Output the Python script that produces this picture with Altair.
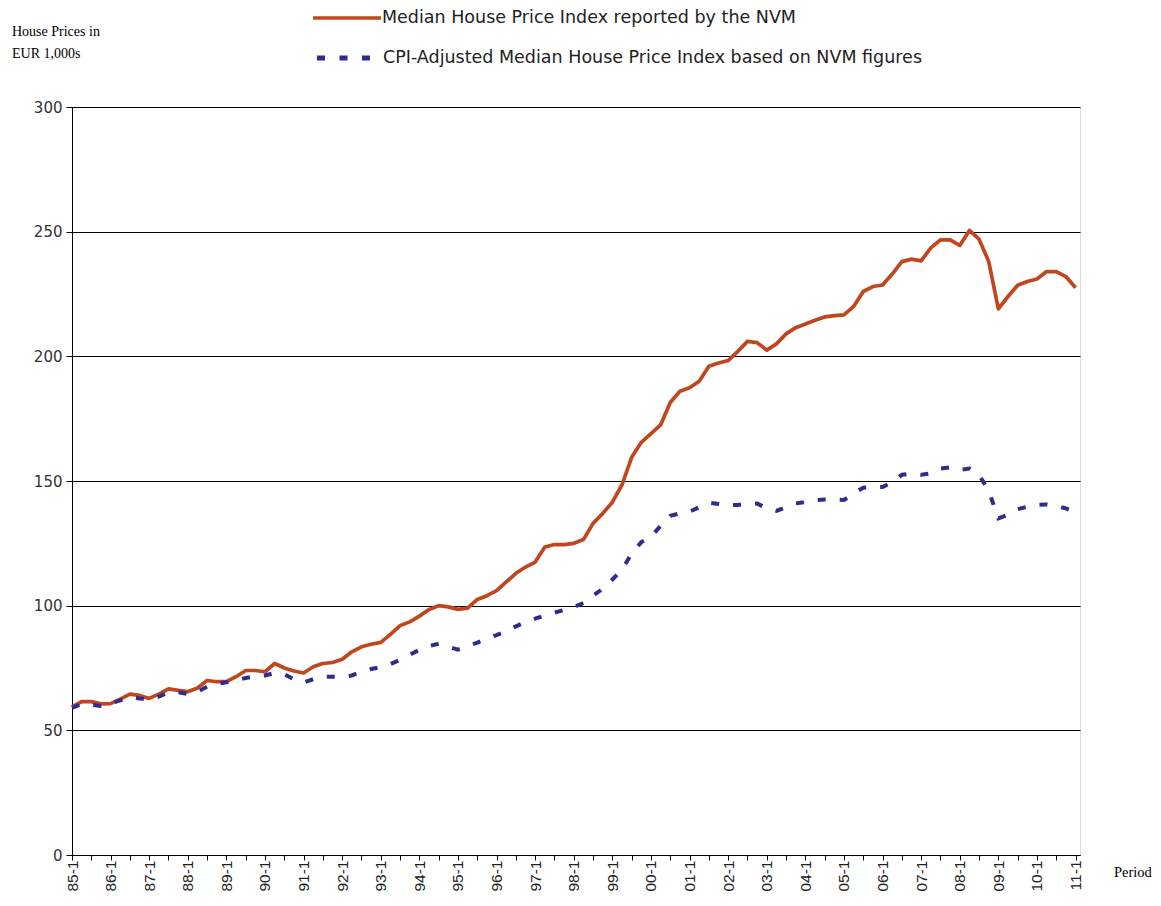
import json
import altair as alt
import pandas as pd

# Quarterly tick labels (one per year, first quarter)
year_labels = ["85-1", "86-1", "87-1", "88-1", "89-1", "90-1", "91-1", "92-1", "93-1",
               "94-1", "95-1", "96-1", "97-1", "98-1", "99-1", "00-1", "01-1", "02-1",
               "03-1", "04-1", "05-1", "06-1", "07-1", "08-1", "09-1", "10-1", "11-1"]

# Median House Price Index reported by the NVM (EUR 1,000s), quarterly 85-1 .. 11-1
nvm_median = [
    59.4, 61.5, 61.5, 60.6,
    60.7, 62.5, 64.5, 64.0,
    62.8, 64.5, 66.6, 66.0,
    65.5, 67.0, 70.0, 69.5,
    69.5, 71.5, 74.0, 74.0,
    73.5, 76.8, 75.0, 73.8,
    73.0, 75.5, 76.8, 77.2,
    78.5, 81.5, 83.5, 84.5,
    85.3, 88.5, 92.0, 93.5,
    95.8, 98.5, 100.0, 99.5,
    98.5, 99.0, 102.5, 104.0,
    106.0, 109.5, 113.0, 115.5,
    117.5, 123.5, 124.5, 124.5,
    125.0, 126.5, 133.0, 137.0,
    141.5, 148.5, 159.5, 165.5,
    169.0, 172.5, 181.5, 186.0,
    187.4, 190.0, 196.0, 197.3,
    198.3, 202.0, 206.0, 205.5,
    202.5, 205.0, 209.0, 211.5,
    213.0, 214.5, 215.8, 216.3,
    216.6, 220.0, 226.0, 228.0,
    228.6, 233.0, 238.0, 239.0,
    238.3, 243.5, 246.7, 246.7,
    244.5, 250.5, 247.0, 238.0,
    219.0, 224.0, 228.5, 230.0,
    231.0, 234.0, 234.0, 232.0,
    227.5,
]

# CPI-Adjusted Median House Price Index based on NVM figures
cpi_adjusted = [
    59.0, 60.5, 60.3, 59.8,
    60.8, 62.0, 63.2, 62.8,
    62.4, 63.5, 65.2, 65.3,
    64.6, 65.5, 67.5, 68.6,
    69.3, 70.0, 71.0, 71.6,
    72.0, 73.0, 72.5, 70.5,
    69.2, 70.5, 71.5, 71.5,
    71.4, 72.0, 73.5, 74.6,
    75.4, 76.6, 78.3, 80.3,
    82.3, 83.8, 84.7, 83.5,
    82.4, 83.7, 85.2, 86.8,
    88.2, 89.8, 91.7, 93.5,
    94.8, 96.1, 97.2, 98.3,
    99.5, 101.0, 104.0, 106.8,
    110.5, 114.4, 121.0, 125.5,
    127.6, 132.0, 136.0, 137.0,
    137.7, 139.5, 141.3, 140.8,
    140.3, 140.4, 141.0, 141.0,
    139.0, 138.0, 139.5, 141.0,
    141.6, 142.3, 142.6, 142.5,
    142.4, 145.0, 147.3, 147.5,
    147.6, 149.5, 152.5, 153.0,
    152.5, 153.0, 155.0, 155.5,
    154.5, 155.0, 152.5, 146.0,
    135.0, 136.5, 138.7, 139.7,
    140.4, 140.6, 140.0, 139.0,
    137.5,
]

series_names = ["Median House Price Index reported by the NVM",
                "CPI-Adjusted Median House Price Index based on NVM figures"]
y_ticks = [0, 50, 100, 150, 200, 250, 300]

RED = "#C0461E"
BLUE = "#2E2C8C"

df = pd.DataFrame({
    "q": list(range(len(nvm_median))),
    "nvm": nvm_median,
    "cpi": cpi_adjusted,
})

label_expr = ("datum.value % 4 == 0 ? " + json.dumps(year_labels) +
              "[datum.value / 4] : ''")

x_enc = alt.X(
    "q:Q",
    scale=alt.Scale(domain=[0, 104.46], nice=False, zero=False),
    axis=alt.Axis(
        values=list(range(0, 105, 2)),
        labelExpr=label_expr,
        labelAngle=270,
        labelFont="Liberation Sans",
        labelFontSize=15.5,
        labelColor="#222222",
        labelPadding=0,
        labelOverlap=False,
        labelBound=False,
        tickSize=5,
        tickColor="#000000",
        domainColor="#000000",
        grid=False,
        title=None,
    ),
)

y_axis = alt.Axis(
    values=y_ticks,
    grid=True,
    gridColor="#000000",
    gridWidth=1,
    tickSize=6,
    tickColor="#000000",
    domainColor="#000000",
    labelFont="DejaVu Sans",
    labelFontSize=15,
    labelColor="#333333",
    labelPadding=4,
    title=None,
)
y_scale = alt.Scale(domain=[0, 300], nice=False)

base = alt.Chart(df)

nvm_line = base.mark_line(color=RED, strokeWidth=3.7, strokeJoin="round").encode(
    x=x_enc, y=alt.Y("nvm:Q", scale=y_scale, axis=y_axis)
)
cpi_line = base.mark_line(color=BLUE, strokeWidth=4, strokeDash=[8, 14]).encode(
    x=x_enc, y=alt.Y("cpi:Q", scale=y_scale, axis=y_axis)
)

# Legend (drawn manually, positioned above the plot)
leg_df1 = pd.DataFrame({"t": [series_names[0]]})
leg_df2 = pd.DataFrame({"t": [series_names[1]]})

leg_red = alt.Chart(leg_df1).mark_rule(color=RED, strokeWidth=3.7).encode(
    x=alt.value(241), x2=alt.value(309), y=alt.value(-89)
)
leg_blue = alt.Chart(leg_df2).mark_rule(color=BLUE, strokeWidth=5, strokeDash=[8, 14.5]).encode(
    x=alt.value(245), x2=alt.value(299), y=alt.value(-49)
)
leg_t1 = alt.Chart(leg_df1).mark_text(
    align="left", baseline="middle", font="DejaVu Sans", fontSize=17.5, color="#222222"
).encode(x=alt.value(310), y=alt.value(-89), text="t:N")
leg_t2 = alt.Chart(leg_df2).mark_text(
    align="left", baseline="middle", font="DejaVu Sans", fontSize=17.5, color="#222222"
).encode(x=alt.value(311), y=alt.value(-49), text="t:N")

ytitle_df = pd.DataFrame({"t": ["House Prices in", "EUR 1,000s"], "yy": [-75, -53]})
ytitle = alt.Chart(ytitle_df).mark_text(
    align="left", baseline="middle", font="Liberation Serif", fontSize=14, color="#000000"
).encode(x=alt.value(-60), y=alt.Y("yy:Q", scale=None), text="t:N")

xtitle_df = pd.DataFrame({"t": ["Period"]})
xtitle = alt.Chart(xtitle_df).mark_text(
    align="left", baseline="middle", font="Liberation Serif", fontSize=14.5, color="#000000"
).encode(x=alt.value(1042), y=alt.value(766), text="t:N")

chart = alt.layer(
    nvm_line, cpi_line, leg_red, leg_blue, leg_t1, leg_t2, ytitle, xtitle
).properties(
    width=1008,
    height=748,
    autosize=alt.AutoSizeParams(type="none"),
    padding={"left": 64, "top": 99, "right": 73, "bottom": 38},
).configure_view(stroke=None).configure(background="#ffffff")

chart.save("out.html", embed_options={"renderer": "svg", "actions": False})
